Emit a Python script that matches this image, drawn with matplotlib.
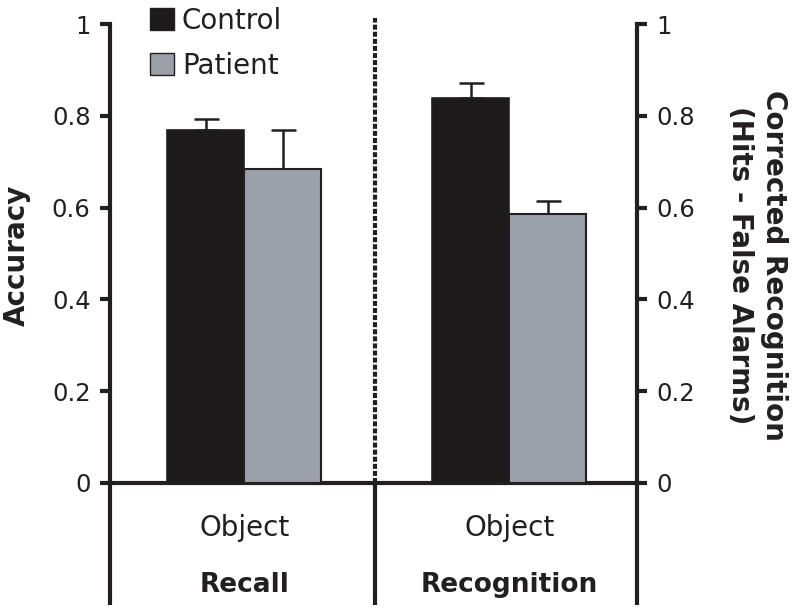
import matplotlib
matplotlib.use("Agg")
import matplotlib.pyplot as plt
from matplotlib.patches import Patch

tasks = ["Recall", "Recognition"]
category = ["Object", "Object"]
groups = ["Control", "Patient"]
control_vals = [0.769, 0.839]
control_err = [0.024, 0.032]
patient_vals = [0.684, 0.586]
patient_err = [0.085, 0.028]
yticks = [0, 0.2, 0.4, 0.6, 0.8, 1]
ytick_labels = ["0", "0.2", "0.4", "0.6", "0.8", "1"]

ink = "#231f20"
c_control = "#1c1a1a"
c_patient = "#9ba1a8"

plt.rcParams['font.family'] = ['DejaVu Sans']

W, H = 800, 615
fig = plt.figure(figsize=(W/100, H/100), dpi=100)
ax = fig.add_axes([110/W, (H-483)/H, (637-110)/W, (483-24)/H])

centers = [0.51, 1.515]
w = 0.292
lw_ax = 3.0
for i in range(2):
    ax.bar(centers[i] - w/2, control_vals[i], width=w, color=c_control,
           edgecolor=ink, linewidth=1.2, zorder=3)
    ax.bar(centers[i] + w/2, patient_vals[i], width=w, color=c_patient,
           edgecolor=ink, linewidth=1.5, zorder=3)
    ax.errorbar(centers[i] - w/2, control_vals[i], yerr=[[0], [control_err[i]]],
                fmt='none', ecolor=ink, elinewidth=1.8, capsize=9, capthick=1.8, zorder=2)
    ax.errorbar(centers[i] + w/2, patient_vals[i], yerr=[[0], [patient_err[i]]],
                fmt='none', ecolor=ink, elinewidth=1.8, capsize=9, capthick=1.8, zorder=2)

ax.set_xlim(0, 2)
ax.set_ylim(0, 1)

# dashed separator
ax.plot([1.005, 1.005], [0, 1.013], color=ink, lw=3.0, ls=(0, (1.2, 0.5)),
        clip_on=False, zorder=4)

# lines below axis
for xv in [0, 1.005, 2]:
    ax.plot([xv, xv], [0, -0.266], color=ink, lw=lw_ax, clip_on=False,
            solid_capstyle='butt', zorder=4)

for i in range(2):
    ax.text(centers[i], -0.098, category[i], ha='center', va='center',
            fontsize=20, color=ink, clip_on=False)
    ax.text(centers[i], -0.222, tasks[i], ha='center', va='center',
            fontsize=19, fontweight='bold', color=ink, clip_on=False)

for s in ['top', 'right']:
    ax.spines[s].set_visible(False)
for s in ['left', 'bottom']:
    ax.spines[s].set_linewidth(lw_ax)
    ax.spines[s].set_color(ink)
ax.spines['left'].set_bounds(0, 1)

ax.set_xticks([])
ax.set_yticks(yticks)
ax.set_yticklabels(ytick_labels, fontsize=17.5, color=ink)
ax.tick_params(axis='y', length=7, width=lw_ax, color=ink, pad=7)

ax2 = ax.twinx()
ax2.set_ylim(0, 1)
for s in ['top', 'left', 'bottom']:
    ax2.spines[s].set_visible(False)
ax2.spines['right'].set_linewidth(lw_ax)
ax2.spines['right'].set_color(ink)
ax2.spines['right'].set_bounds(0, 1)
ax2.set_yticks(yticks)
ax2.set_yticklabels(ytick_labels, fontsize=17.5, color=ink)
ax2.tick_params(axis='y', length=7, width=lw_ax, color=ink, pad=7)

fig.text(17/W, 1 - 255/H, "Accuracy", rotation=90, ha='center', va='center',
         fontsize=20, fontweight='bold', color=ink)
fig.text(757/W, 1 - 265/H, "Corrected Recognition\n(Hits - False Alarms)",
         rotation=-90, ha='center', va='center', multialignment='center',
         fontsize=20, fontweight='bold', color=ink, linespacing=1.3)

handles = [Patch(facecolor=c_control, edgecolor=ink, label=groups[0]),
           Patch(facecolor=c_patient, edgecolor=ink, label=groups[1])]
leg = fig.legend(handles=handles, loc='upper left',
                 bbox_to_anchor=(150/W, 1 - 7/H),
                 frameon=False, fontsize=20, handlelength=0.85, handleheight=0.85,
                 handletextpad=0.3, labelspacing=0.6, borderaxespad=0,
                 borderpad=0)
for t in leg.get_texts():
    t.set_color(ink)

fig.savefig("out.png", dpi=100)
